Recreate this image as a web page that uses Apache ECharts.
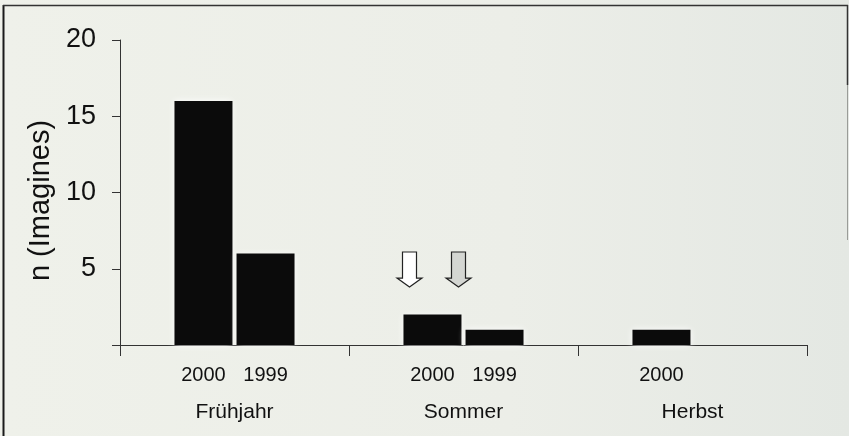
<!DOCTYPE html>
<html>
<head>
<meta charset="utf-8">
<script src="https://cdn.jsdelivr.net/npm/echarts@6/dist/echarts.min.js"></script>
<style>
  html, body { margin: 0; padding: 0; background: #eef0ea; }
  #chart { width: 849px; height: 436px; }
</style>
</head>
<body>
<div id="chart"></div>
<script>
// Seasons on the x axis, one bar per year inside each season
const seasons = ['Frühjahr', 'Sommer', 'Herbst'];
const years = ['2000', '1999'];
const counts2000 = [16, 2, 1];
const counts1999 = [6, 1, null];
const yTicks = [0, 5, 10, 15, 20];
const yTitle = 'n (Imagines)';

const font = '"Liberation Sans", Arial, Helvetica, sans-serif';
const ink = '#111';

const chart = echarts.init(document.getElementById('chart'), null, { renderer: 'canvas' });

function barSeries(name, values) {
  return {
    name: name,
    type: 'bar',
    data: values,
    barWidth: 58,
    barGap: '7%',
    itemStyle: {
      color: '#0b0b0b',
      shadowColor: 'rgba(255,255,255,0.95)',
      shadowBlur: 7
    },
    label: {
      show: true,
      position: 'bottom',
      distance: 20,
      formatter: () => name,
      fontFamily: font,
      fontSize: 20,
      color: ink
    },
    silent: true
  };
}

chart.setOption({
  backgroundColor: {
    type: 'linear', x: 0, y: 0, x2: 1, y2: 0,
    colorStops: [
      { offset: 0, color: '#eff1ea' },
      { offset: 0.6, color: '#eceee8' },
      { offset: 1, color: '#e4e8e3' }
    ]
  },
  animation: false,
  grid: { left: 120, right: 42, top: 40, bottom: 91 },
  xAxis: {
    type: 'category',
    data: seasons,
    axisLine: { lineStyle: { color: '#333', width: 1 } },
    axisTick: { show: true, length: 11, lineStyle: { color: '#333' } },
    axisLabel: { margin: 57, fontFamily: font, fontSize: 21, color: ink }
  },
  yAxis: {
    type: 'value',
    min: yTicks[0],
    max: yTicks[yTicks.length - 1],
    interval: 5,
    name: yTitle,
    nameLocation: 'middle',
    nameGap: 60,
    nameTextStyle: { fontFamily: font, fontSize: 29, color: ink, padding: [0, 16, 0, 0] },
    axisLine: { show: true, lineStyle: { color: '#333', width: 1 } },
    axisTick: { show: true, length: 8, lineStyle: { color: '#333' } },
    splitLine: { show: false },
    axisLabel: {
      margin: 24,
      fontFamily: font,
      fontSize: 27,
      color: ink,
      formatter: v => (v === 0 ? '' : String(v))
    }
  },
  series: [barSeries(years[0], counts2000), barSeries(years[1], counts1999)]
});

// Frame lines and the two downward arrows over the summer bars
function arrowShape(cx, yTop, yTip) {
  const shaftHalf = 7, headHalf = 12.5;
  const headTop = yTip - 9;
  return [
    [cx - shaftHalf, yTop], [cx + shaftHalf, yTop], [cx + shaftHalf, headTop],
    [cx + headHalf, headTop], [cx, yTip], [cx - headHalf, headTop],
    [cx - shaftHalf, headTop]
  ];
}

const summerX = chart.convertToPixel({ xAxisIndex: 0 }, 'Sommer');
const arrowTop = chart.convertToPixel({ yAxisIndex: 0 }, 6.1);
const arrowTip = chart.convertToPixel({ yAxisIndex: 0 }, 3.8);

const arrows = [
  { cx: summerX - 54, fill: '#ffffff' },
  { cx: summerX - 5, fill: '#d4d6d2' }
].map(a => ({
  type: 'polygon',
  shape: { points: arrowShape(a.cx, arrowTop, arrowTip) },
  style: { fill: a.fill, stroke: '#222', lineWidth: 1.2 },
  z: 10
}));

chart.setOption({
  graphic: [
    { type: 'line', shape: { x1: 3.5, y1: 5, x2: 3.5, y2: 436 }, style: { stroke: '#1a1a1a', lineWidth: 2 } },
    { type: 'line', shape: { x1: 3, y1: 5.5, x2: 848, y2: 5.5 }, style: { stroke: '#333', lineWidth: 1.5 } },
    { type: 'line', shape: { x1: 847.5, y1: 5, x2: 847.5, y2: 85 }, style: { stroke: '#333', lineWidth: 1.5 } },
    { type: 'line', shape: { x1: 847.5, y1: 85, x2: 847.5, y2: 240 }, style: { stroke: '#9a9c98', lineWidth: 1 } }
  ].concat(arrows)
});
</script>
</body>
</html>
